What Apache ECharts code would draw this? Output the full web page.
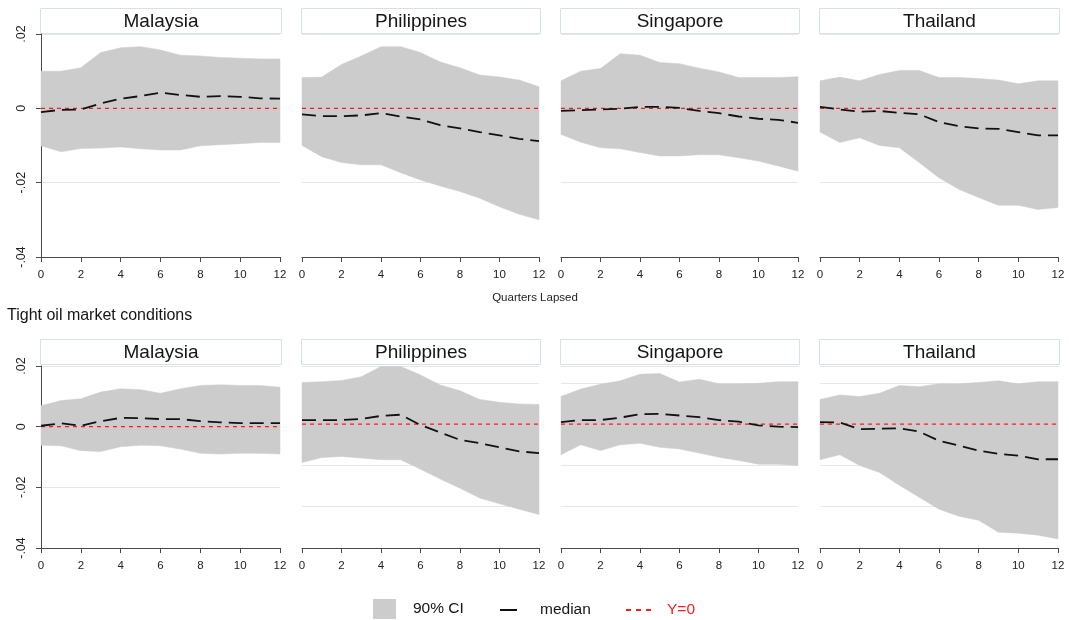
<!DOCTYPE html>
<html>
<head>
<meta charset="utf-8">
<script src="https://cdn.jsdelivr.net/npm/echarts@6.0.0/dist/echarts.min.js"></script>
<style>
html,body{margin:0;padding:0;background:#fff;}
#chart{width:1069px;height:620px;}
</style>
</head>
<body>
<div id="chart"></div>
<script>
// ---------- data ----------
const quarters = [0,1,2,3,4,5,6,7,8,9,10,11,12];
const countries = ['Malaysia','Philippines','Singapore','Thailand'];
const xTickValues = [0,2,4,6,8,10,12];
const yTickValues = [-0.04,-0.02,0,0.02];
const yTickLabels = ['-.04','-.02','0','.02'];
const rowLabel = 'Tight oil market conditions';
const xAxisTitle = 'Quarters Lapsed';

// top row (baseline)
const top_Malaysia_median    = [-0.0010,-0.0004,-0.0003,0.0013,0.0026,0.0033,0.0042,0.0036,0.0031,0.0033,0.0031,0.0027,0.0026];
const top_Malaysia_upper     = [0.0100,0.0100,0.0109,0.0150,0.0163,0.0166,0.0157,0.0143,0.0141,0.0137,0.0135,0.0133,0.0133];
const top_Malaysia_lower     = [-0.0101,-0.0117,-0.0108,-0.0107,-0.0104,-0.0109,-0.0112,-0.0112,-0.0101,-0.0098,-0.0095,-0.0092,-0.0092];

const top_Philippines_median = [-0.0016,-0.0021,-0.0021,-0.0019,-0.0013,-0.0022,-0.0030,-0.0045,-0.0054,-0.0064,-0.0073,-0.0082,-0.0088];
const top_Philippines_upper  = [0.0083,0.0084,0.0118,0.0141,0.0166,0.0166,0.0150,0.0125,0.0109,0.0090,0.0084,0.0076,0.0058];
const top_Philippines_lower  = [-0.0100,-0.0130,-0.0146,-0.0152,-0.0152,-0.0173,-0.0193,-0.0209,-0.0224,-0.0242,-0.0265,-0.0285,-0.0300];

const top_Singapore_median   = [-0.0007,-0.0005,-0.0003,-0.0001,0.0004,0.0004,0.0001,-0.0007,-0.0013,-0.0022,-0.0028,-0.0031,-0.0039];
const top_Singapore_upper    = [0.0074,0.0100,0.0107,0.0147,0.0143,0.0123,0.0120,0.0108,0.0098,0.0083,0.0083,0.0083,0.0085];
const top_Singapore_lower    = [-0.0070,-0.0091,-0.0106,-0.0109,-0.0119,-0.0128,-0.0128,-0.0125,-0.0125,-0.0133,-0.0142,-0.0155,-0.0169];

const top_Thailand_median    = [0.0004,-0.0003,-0.0009,-0.0007,-0.0012,-0.0016,-0.0037,-0.0048,-0.0054,-0.0055,-0.0064,-0.0073,-0.0073];
const top_Thailand_upper     = [0.0074,0.0084,0.0074,0.0091,0.0102,0.0102,0.0083,0.0083,0.0080,0.0076,0.0066,0.0074,0.0074];
const top_Thailand_lower     = [-0.0064,-0.0092,-0.0079,-0.0100,-0.0106,-0.0146,-0.0187,-0.0218,-0.0240,-0.0261,-0.0261,-0.0272,-0.0267];

// bottom row (tight oil market conditions)
const tight_Malaysia_median    = [0.0003,0.0011,0.0003,0.0018,0.0029,0.0028,0.0025,0.0025,0.0018,0.0014,0.0012,0.0012,0.0012];
const tight_Malaysia_upper     = [0.0069,0.0086,0.0092,0.0114,0.0125,0.0122,0.0110,0.0125,0.0136,0.0138,0.0136,0.0136,0.0130];
const tight_Malaysia_lower     = [-0.0061,-0.0063,-0.0079,-0.0082,-0.0066,-0.0061,-0.0063,-0.0074,-0.0088,-0.0090,-0.0088,-0.0088,-0.0090];

const tight_Philippines_median = [0.0010,0.0010,0.0010,0.0013,0.0020,0.0023,-0.0002,-0.0020,-0.0038,-0.0046,-0.0056,-0.0066,-0.0070];
const tight_Philippines_upper  = [0.0101,0.0103,0.0106,0.0115,0.0140,0.0140,0.0119,0.0095,0.0081,0.0060,0.0053,0.0049,0.0048];
const tight_Philippines_lower  = [-0.0093,-0.0081,-0.0078,-0.0082,-0.0086,-0.0086,-0.0109,-0.0133,-0.0155,-0.0179,-0.0193,-0.0206,-0.0219];

const tight_Singapore_median   = [0.0005,0.0010,0.0010,0.0016,0.0024,0.0025,0.0021,0.0017,0.0010,0.0006,-0.0003,-0.0006,-0.0007];
const tight_Singapore_upper    = [0.0067,0.0085,0.0097,0.0105,0.0121,0.0123,0.0102,0.0109,0.0098,0.0098,0.0099,0.0103,0.0103];
const tight_Singapore_lower    = [-0.0074,-0.0050,-0.0064,-0.0050,-0.0046,-0.0056,-0.0060,-0.0070,-0.0080,-0.0088,-0.0097,-0.0097,-0.0100];

const tight_Thailand_median    = [0.0005,0.0004,-0.0012,-0.0011,-0.0010,-0.0018,-0.0040,-0.0052,-0.0064,-0.0072,-0.0076,-0.0085,-0.0085];
const tight_Thailand_upper     = [0.0060,0.0071,0.0067,0.0075,0.0094,0.0091,0.0098,0.0098,0.0101,0.0105,0.0098,0.0103,0.0103];
const tight_Thailand_lower     = [-0.0086,-0.0074,-0.0100,-0.0117,-0.0148,-0.0177,-0.0206,-0.0223,-0.0233,-0.0262,-0.0264,-0.0269,-0.0278];

// y ranges for each panel
const yRangeCommon = {min:-0.04, max:0.02, interval:0.02};
const yRangeTightOthers = {min:-0.03, max:0.0141, interval:0.01};

// ---------- build ----------
const panels = [
  {row:0,col:0,median:top_Malaysia_median,upper:top_Malaysia_upper,lower:top_Malaysia_lower,range:yRangeCommon},
  {row:0,col:1,median:top_Philippines_median,upper:top_Philippines_upper,lower:top_Philippines_lower,range:yRangeCommon},
  {row:0,col:2,median:top_Singapore_median,upper:top_Singapore_upper,lower:top_Singapore_lower,range:yRangeCommon},
  {row:0,col:3,median:top_Thailand_median,upper:top_Thailand_upper,lower:top_Thailand_lower,range:yRangeCommon},
  {row:1,col:0,median:tight_Malaysia_median,upper:tight_Malaysia_upper,lower:tight_Malaysia_lower,range:yRangeCommon},
  {row:1,col:1,median:tight_Philippines_median,upper:tight_Philippines_upper,lower:tight_Philippines_lower,range:yRangeTightOthers},
  {row:1,col:2,median:tight_Singapore_median,upper:tight_Singapore_upper,lower:tight_Singapore_lower,range:yRangeTightOthers},
  {row:1,col:3,median:tight_Thailand_median,upper:tight_Thailand_upper,lower:tight_Thailand_lower,range:yRangeTightOthers}
];

const FONT = "'Liberation Sans', Arial, sans-serif";
const colLeft = [41, 302, 561, 820];
const colWidth = [239, 237, 237, 238];
const rowTop = [34, 366];
const rowHeight = [223, 182];
const boxTop = [8, 339];
const boxHeight = 25;
const BAND = '#cccccc';
const RED = '#ff1a1a';

const grids = [], xAxes = [], yAxes = [], series = [], graphics = [];

panels.forEach((p, i) => {
  grids.push({left: colLeft[p.col], top: rowTop[p.row], width: colWidth[p.col], height: rowHeight[p.row], containLabel:false});
  xAxes.push({
    type:'value', gridIndex:i, min:0, max:12, interval:2,
    axisLine:{show:true, onZero:false, lineStyle:{color:'#4a4a4a', width:1}},
    axisTick:{show:true, length:5, lineStyle:{color:'#4a4a4a'}},
    axisLabel:{show:true, fontSize:11.5, color:'#222', fontFamily:FONT, margin:12,
      formatter:(v)=> xTickValues.indexOf(v) >= 0 ? String(v) : ''},
    splitLine:{show:false}
  });
  const isLeft = p.col === 0;
  yAxes.push({
    type:'value', gridIndex:i, min:p.range.min, max:p.range.max, interval:p.range.interval,
    axisLine:{show:isLeft, lineStyle:{color:'#4a4a4a', width:1}},
    axisTick:{show:isLeft, length:5, lineStyle:{color:'#4a4a4a'}},
    axisLabel:{show:isLeft, rotate:90, fontSize:12.5, color:'#222', fontFamily:FONT, margin:13,
      formatter:(v)=>{
        for (let k=0;k<yTickValues.length;k++){ if (Math.abs(v-yTickValues[k])<1e-9) return yTickLabels[k]; }
        return '';
      }},
    splitLine:{show:true, lineStyle:{color:'#e4e8ea', width:1}}
  });
  // 90% CI band as a polygon through the axes' scales
  const lower = p.lower, upper = p.upper;
  series.push({
    type:'custom', name:'90% CI', xAxisIndex:i, yAxisIndex:i, silent:true, z:1,
    itemStyle:{color:BAND},
    data: quarters.map((q,k)=>[q, lower[k], upper[k]]),
    encode:{x:0, y:[1,2]},
    renderItem:(params, api)=>{
      if (params.dataIndex !== 0) return null;
      const pts = [];
      for (let k=0;k<quarters.length;k++) pts.push(api.coord([quarters[k], upper[k]]));
      for (let k=quarters.length-1;k>=0;k--) pts.push(api.coord([quarters[k], lower[k]]));
      return {type:'polygon', shape:{points:pts}, style:{fill:BAND, stroke:BAND, lineWidth:0.5}};
    }
  });
  series.push({
    type:'line', name:'Y=0', xAxisIndex:i, yAxisIndex:i,
    data: quarters.map(q=>[q, 0]),
    symbol:'none', lineStyle:{color:RED, width:1.3, type:[4,4]}, itemStyle:{color:RED}, silent:true, z:3
  });
  series.push({
    type:'line', name:'median', xAxisIndex:i, yAxisIndex:i,
    data: quarters.map((q,k)=>[q, p.median[k]]),
    symbol:'none', lineStyle:{color:'#111', width:1.8, type:[14,7]}, itemStyle:{color:'#111'}, silent:true, z:4
  });
  // panel title box
  graphics.push({
    type:'group', left: colLeft[p.col]-1, top: boxTop[p.row],
    children:[
      {type:'rect', shape:{x:0,y:0,width:colWidth[p.col]+2,height:boxHeight},
        style:{fill:'#ffffff', stroke:'#d3e3e8', lineWidth:1}},
      {type:'text', x:(colWidth[p.col]+2)/2, y:boxHeight/2+0.5,
        style:{text:countries[p.col], fill:'#151515', font:"19px "+FONT, textAlign:'center', textVerticalAlign:'middle'}}
    ]
  });
});

graphics.push({type:'text', left:7, top:308, style:{text:rowLabel, fill:'#151515', font:"16px "+FONT}});
graphics.push({type:'text', x:535, y:298, style:{text:xAxisTitle, fill:'#222', font:"11.5px "+FONT, textAlign:'center', textVerticalAlign:'middle'}});

const legendText = {fontSize:15.5, color:'#151515', fontFamily:FONT};
const option = {
  animation:false,
  backgroundColor:'#ffffff',
  grid: grids,
  xAxis: xAxes,
  yAxis: yAxes,
  series: series,
  graphic: graphics,
  legend: [
    {data:[{name:'90% CI', icon:'rect', itemStyle:{color:BAND}}], left:373, top:599, padding:0, itemWidth:23, itemHeight:20, selectedMode:false,
      textStyle:Object.assign({}, legendText, {padding:[3,0,0,12]})},
    {data:[{name:'median', icon:'rect', itemStyle:{color:'#111'}}], left:500, top:602, padding:0, itemWidth:17, itemHeight:2, selectedMode:false,
      textStyle:Object.assign({}, legendText, {padding:[0,0,0,18]})},
    {data:[{name:'Y=0', icon:'path://M0,0h5v2h-5z M10,0h5v2h-5z M20,0h5v2h-5z', itemStyle:{color:RED}}], left:626, top:602, padding:0, itemWidth:25, itemHeight:2, selectedMode:false,
      textStyle:Object.assign({}, legendText, {color:RED, padding:[0,0,0,11]})}
  ]
};

const chart = echarts.init(document.getElementById('chart'), null, {renderer:'canvas'});
chart.setOption(option);
</script>
</body>
</html>
